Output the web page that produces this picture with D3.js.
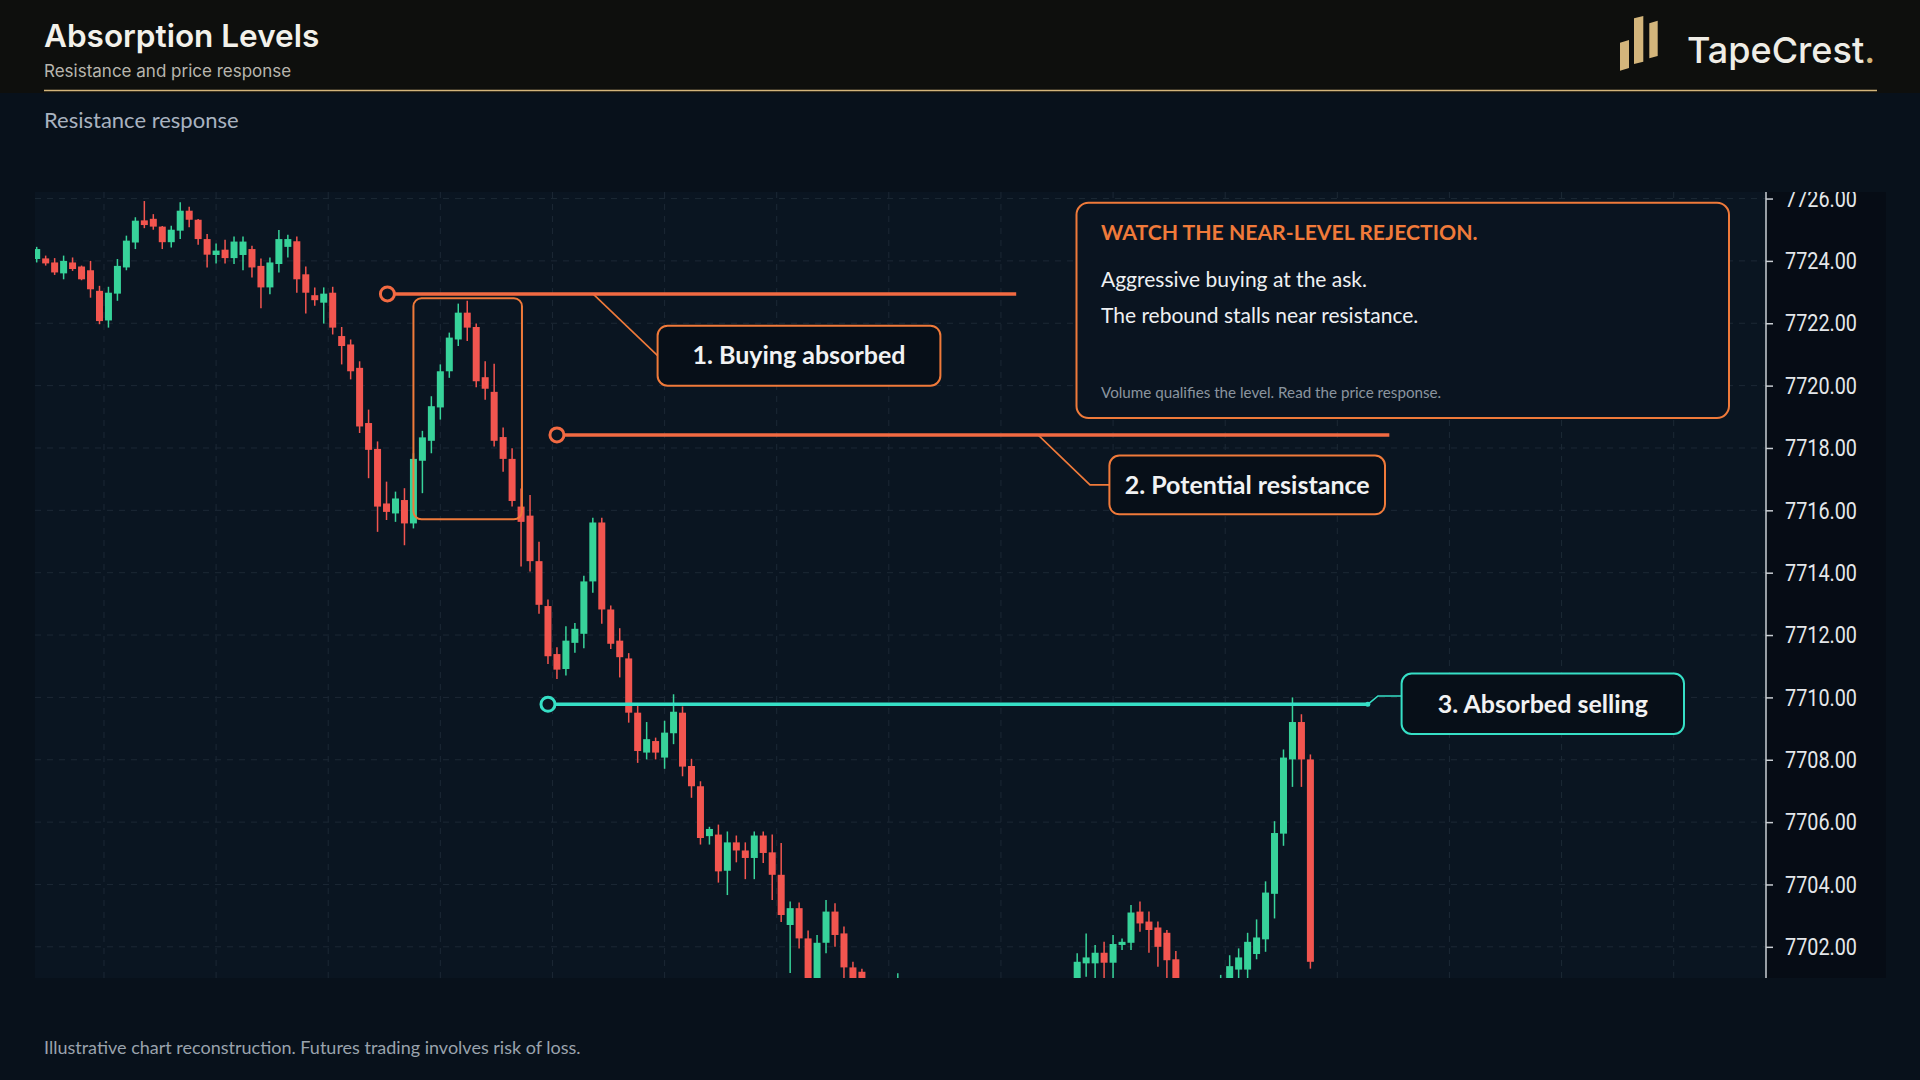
<!DOCTYPE html>
<html>
<head>
<meta charset="utf-8">
<script src="https://cdn.jsdelivr.net/npm/d3@7"></script>
<style>
  html, body { margin: 0; padding: 0; background: #08111b; }
  svg { display: block; }
</style>
</head>
<body>
<svg id="chart" width="1920" height="1080"></svg>
<script>
// ---------------- DATA ----------------
const chartTitle = "Absorption Levels";
const chartSubtitle = "Resistance and price response";
const panelLabel = "Resistance response";
const footerNote = "Illustrative chart reconstruction. Futures trading involves risk of loss.";
const brandName = "TapeCrest";

const candleOpen = [
  7724.06,7724.08,7723.95,7723.60,7723.95,7723.82,7723.70,7723.04,7722.09,7722.95,
  7723.79,7724.59,7725.30,7725.35,7725.10,7724.60,7724.97,7725.61,7725.32,7724.70,
  7724.19,7724.36,7724.09,7724.19,7724.38,7723.84,7723.15,7723.90,7724.45,7724.63,
  7723.57,7722.90,7722.66,7722.98,7721.59,7721.32,7720.57,7718.80,7717.97,7716.22,
  7715.90,7716.33,7715.58,7717.59,7718.23,7719.30,7720.46,7721.48,7722.34,7721.88,
  7720.27,7719.80,7718.35,7717.65,7716.12,7715.83,7714.37,7712.93,7711.39,7710.91,
  7711.75,7712.04,7713.72,7715.61,7712.82,7711.82,7711.25,7709.51,7708.23,7708.60,
  7708.07,7708.85,7709.51,7707.80,7707.15,7705.55,7705.60,7704.44,7705.35,7705.09,
  7704.85,7705.57,7705.03,7704.31,7702.70,7703.24,7702.27,7700.80,7702.13,7703.13,
  7702.43,7701.34,7701.20,7700.60,7699.90,7700.20,7699.30,7700.60,7699.10,7698.20,
  7697.50,7698.10,7697.00,7696.50,7697.30,7696.30,7696.80,7697.60,7697.20,7698.30,
  7697.90,7698.90,7698.50,7699.40,7699.20,7700.10,7700.50,7701.47,7701.47,7701.81,
  7701.49,7702.06,7702.13,7703.13,7702.81,7702.62,7702.45,7701.60,7700.80,7700.10,
  7699.80,7700.20,7699.90,7700.50,7701.27,7701.27,7701.77,7702.24,7703.70,7705.63,
  7708.01,7709.21,7708.01
];
const candleHigh = [
  7724.45,7724.17,7724.09,7724.17,7724.11,7723.85,7724.00,7723.20,7723.17,7724.06,
  7724.81,7725.40,7725.92,7725.50,7725.12,7725.13,7725.88,7725.74,7725.34,7724.86,
  7724.56,7724.68,7724.78,7724.78,7724.49,7724.08,7724.11,7724.99,7724.84,7724.78,
  7723.82,7723.15,7723.15,7723.17,7721.88,7721.48,7720.78,7719.23,7718.21,7716.92,
  7716.60,7716.71,7717.83,7718.55,7719.66,7720.68,7721.70,7722.63,7722.72,7721.99,
  7720.78,7720.70,7718.66,7717.99,7716.70,7716.49,7714.99,7713.14,7711.61,7712.28,
  7712.39,7713.90,7715.76,7715.76,7712.95,7712.22,7711.42,7709.73,7709.21,7708.71,
  7709.25,7710.10,7709.71,7708.03,7707.31,7705.85,7705.92,7705.70,7705.57,7705.35,
  7705.70,7705.70,7705.60,7705.33,7703.45,7703.42,7702.52,7702.38,7703.50,7703.40,
  7702.65,7701.52,7701.30,7700.80,7700.40,7700.50,7701.15,7700.80,7699.40,7698.60,
  7698.40,7698.30,7697.40,7697.60,7697.50,7697.00,7697.90,7698.00,7698.50,7698.70,
  7699.10,7699.30,7699.60,7699.90,7700.30,7700.70,7701.79,7702.43,7702.06,7702.16,
  7702.38,7702.27,7703.34,7703.45,7703.13,7702.81,7702.54,7701.87,7700.90,7700.60,
  7700.40,7700.70,7701.10,7701.73,7701.95,7702.45,7702.88,7704.10,7706.03,7708.33,
  7710.00,7709.46,7708.17
];
const candleLow = [
  7723.95,7723.85,7723.55,7723.41,7723.68,7723.38,7722.82,7721.97,7721.86,7722.72,
  7723.70,7724.38,7725.05,7725.00,7724.38,7724.43,7724.70,7725.08,7724.52,7723.79,
  7723.92,7723.92,7723.90,7723.70,7723.47,7722.48,7722.93,7723.63,7724.11,7722.98,
  7722.31,7722.56,7721.99,7721.64,7720.68,7720.20,7718.48,7717.03,7715.31,7715.69,
  7715.63,7714.88,7715.42,7716.55,7717.83,7718.91,7720.25,7721.27,7721.43,7719.95,
  7719.55,7718.05,7717.24,7716.12,7714.20,7714.04,7712.68,7711.07,7710.59,7710.70,
  7711.43,7711.58,7713.36,7712.36,7711.55,7710.64,7709.19,7707.90,7708.01,7708.01,
  7707.71,7708.50,7707.47,7706.78,7705.28,7705.28,7704.06,7703.66,7704.71,7704.17,
  7704.17,7704.69,7703.50,7702.80,7701.16,7701.95,7700.60,7700.50,7701.79,7702.00,
  7700.98,7700.50,7700.30,7699.60,7699.20,7699.00,7699.00,7698.80,7697.90,7697.20,
  7697.10,7696.80,7696.20,7696.30,7696.00,7695.80,7696.60,7696.90,7697.00,7697.60,
  7697.70,7698.20,7698.30,7698.90,7699.00,7699.70,7700.20,7701.04,7700.90,7700.90,
  7700.90,7701.90,7701.90,7702.48,7701.81,7701.36,7700.90,7700.50,7699.80,7699.50,
  7699.30,7699.60,7699.70,7700.30,7700.90,7700.90,7701.60,7701.84,7702.91,7705.24,
  7707.13,7707.13,7701.30
];
const candleClose = [
  7724.38,7723.92,7723.63,7724.00,7723.74,7723.41,7723.09,7722.07,7722.98,7723.84,
  7724.65,7725.29,7725.15,7725.10,7724.60,7725.00,7725.61,7725.32,7724.70,7724.20,
  7724.33,7724.09,7724.62,7724.62,7723.79,7723.15,7723.95,7724.70,7724.70,7723.41,
  7722.98,7722.74,7722.95,7721.86,7721.27,7720.46,7718.69,7717.94,7716.12,7715.95,
  7716.38,7715.58,7717.65,7718.34,7719.34,7720.46,7721.54,7722.34,7721.86,7720.14,
  7719.90,7718.23,7717.65,7716.30,7715.63,7714.37,7712.97,7711.32,7710.89,7711.82,
  7712.20,7713.72,7715.61,7712.82,7711.72,7711.29,7709.51,7708.28,7708.66,7708.23,
  7708.87,7709.54,7707.78,7707.15,7705.49,7705.78,7704.42,7705.35,7705.09,7704.85,
  7705.57,7705.01,7704.31,7703.02,7703.24,7702.27,7700.90,7702.13,7703.13,7702.38,
  7701.34,7700.80,7700.60,7699.90,7700.20,7699.30,7700.60,7699.10,7698.20,7697.50,
  7698.10,7697.00,7696.50,7697.30,7696.30,7696.80,7697.60,7697.20,7698.30,7697.90,
  7698.90,7698.50,7699.40,7699.20,7700.10,7700.00,7701.52,7701.66,7701.81,7701.49,
  7702.09,7702.16,7703.10,7702.75,7702.54,7702.00,7701.57,7700.80,7700.10,7699.80,
  7700.20,7699.90,7700.50,7701.38,7701.66,7702.16,7702.30,7703.74,7705.65,7708.07,
  7709.21,7708.01,7701.52
];

const priceTicks = [7702, 7704, 7706, 7708, 7710, 7712, 7714, 7716, 7718, 7720, 7722, 7724, 7726];

// annotated levels (price, start / end in candle index units)
const levelPrices = [7722.94, 7718.42, 7709.78];
const levelStartIdx = [39.1, 58.0, 57.0];
const levelEndIdx = [109.2, 150.8, 148.4];
const levelLabels = ["1. Buying absorbed", "2. Potential resistance", "3. Absorbed selling"];
// highlighted candle zone (index range, price range)
const zoneIdx = [42.0, 54.1];
const zonePrice = [7715.71, 7722.80];

const infoTitle = "WATCH THE NEAR-LEVEL REJECTION.";
const infoLines = ["Aggressive buying at the ask.", "The rebound stalls near resistance."];
const infoNote = "Volume qualifies the level. Read the price response.";

// ---------------- STYLE ----------------
const C = {
  header: "#0e0f0d", gold: "#d3b57b", page: "#08111b", panel: "#0a1521", axisBg: "#060c15",
  grid: "#1c2835", green: "#37d39a", red: "#f2554f", orange: "#f26a42", orangeBox: "#f07a3a",
  teal: "#36dfc6", white: "#f1f2f3", axisText: "#e4e7ea"
};
const uiFont = "Lato, 'Open Sans', sans-serif";

const svg = d3.select("#chart");
const N = candleOpen.length;
const candles = d3.range(N).map(i => ({ i, o: candleOpen[i], h: candleHigh[i], l: candleLow[i], c: candleClose[i] }));

const plot = { left: 35, right: 1766, top: 192, bottom: 978, panelRight: 1886 };
const x = d3.scaleLinear().domain([0, N - 1]).range([36.7, 1310.4]);
const y = d3.scaleLinear().domain([7701, 7726.21]).range([plot.bottom, plot.top]);

// ---------------- HEADER ----------------
svg.append("rect").attr("x", 0).attr("y", 0).attr("width", 1920).attr("height", 93).attr("fill", C.header);
svg.append("line").attr("x1", 44).attr("x2", 1877).attr("y1", 90.5).attr("y2", 90.5)
  .attr("stroke", C.gold).attr("stroke-width", 1.5);
svg.append("text").attr("x", 44).attr("y", 47).text(chartTitle)
  .attr("font-family", "Inter, sans-serif").attr("font-weight", 600).attr("font-size", 31.5).attr("fill", "#f3f1ea");
svg.append("text").attr("x", 44).attr("y", 77).text(chartSubtitle)
  .attr("font-family", "Inter, sans-serif").attr("font-size", 17).attr("fill", "#b8b6ae");

// logo
const logo = svg.append("g").attr("fill", C.gold);
[[1620, 1629, 42.7, 40, 70.7, 68], [1634, 1643.3, 18.3, 16, 64, 61.7], [1649.3, 1657.7, 23.3, 20.7, 58.3, 56]]
  .forEach(([x0, x1, tl, tr, bl, br]) => {
    logo.append("polygon").attr("points", `${x0},${tl} ${x1},${tr} ${x1},${br} ${x0},${bl}`);
  });
const brand = svg.append("text").attr("x", 1687).attr("y", 63)
  .attr("font-family", "Inter, sans-serif").attr("font-weight", 500).attr("font-size", 36).attr("fill", "#efede6");
brand.append("tspan").text(brandName);
brand.append("tspan").attr("fill", C.gold).text(".");

svg.append("text").attr("x", 44).attr("y", 128).text(panelLabel)
  .attr("font-family", uiFont).attr("font-size", 22).attr("fill", "#a9b3c0");

// ---------------- PANEL ----------------
svg.append("rect").attr("x", plot.left).attr("y", plot.top)
  .attr("width", plot.panelRight - plot.left).attr("height", plot.bottom - plot.top).attr("fill", C.panel);
svg.append("rect").attr("x", plot.right).attr("y", plot.top)
  .attr("width", plot.panelRight - plot.right).attr("height", plot.bottom - plot.top).attr("fill", C.axisBg);

const defs = svg.append("defs");
defs.append("clipPath").attr("id", "plotClip").append("rect")
  .attr("x", plot.left).attr("y", plot.top).attr("width", plot.right - plot.left).attr("height", plot.bottom - plot.top);
defs.append("clipPath").attr("id", "axisClip").append("rect")
  .attr("x", plot.right - 5).attr("y", plot.top).attr("width", 200).attr("height", plot.bottom - plot.top);

const gPlot = svg.append("g").attr("clip-path", "url(#plotClip)");

// grid
gPlot.append("g").selectAll("line").data(priceTicks).join("line")
  .attr("x1", plot.left).attr("x2", plot.right)
  .attr("y1", d => y(d)).attr("y2", d => y(d))
  .attr("stroke", C.grid).attr("stroke-width", 1).attr("stroke-dasharray", "6,6");
const vGrid = d3.range(7.5, 200, 12.5).filter(k => x(k) < plot.right);
gPlot.append("g").selectAll("line").data(vGrid).join("line")
  .attr("x1", d => x(d)).attr("x2", d => x(d))
  .attr("y1", plot.top).attr("y2", plot.bottom)
  .attr("stroke", C.grid).attr("stroke-width", 1).attr("stroke-dasharray", "6,6");

// candles
const bodyW = 7;
const gC = gPlot.append("g");
const cg = gC.selectAll("g").data(candles).join("g");
cg.append("line")
  .attr("x1", d => x(d.i)).attr("x2", d => x(d.i))
  .attr("y1", d => y(d.h)).attr("y2", d => y(d.l))
  .attr("stroke", d => d.c >= d.o ? C.green : C.red).attr("stroke-width", 1.5);
cg.append("rect")
  .attr("x", d => x(d.i) - bodyW / 2).attr("width", bodyW)
  .attr("y", d => y(Math.max(d.o, d.c)))
  .attr("height", d => Math.max(1.5, Math.abs(y(d.o) - y(d.c))))
  .attr("fill", d => d.c >= d.o ? C.green : C.red);

// axis
const gAxis = svg.append("g").attr("clip-path", "url(#axisClip)");
gAxis.append("line").attr("x1", plot.right).attr("x2", plot.right).attr("y1", plot.top).attr("y2", plot.bottom)
  .attr("stroke", "#c9ced3").attr("stroke-width", 1.5);
const yAxis = d3.axisRight(y).tickValues(priceTicks).tickFormat(d3.format(".2f")).tickSize(7).tickPadding(12);
const ax = gAxis.append("g").attr("transform", `translate(${plot.right},0)`).call(yAxis);
ax.select(".domain").remove();
ax.selectAll(".tick line").attr("stroke", "#c9ced3").attr("stroke-width", 1.5);
ax.selectAll(".tick text").attr("fill", C.axisText)
  .attr("font-family", "Roboto, sans-serif").attr("font-size", 24)
  .attr("textLength", 72).attr("lengthAdjust", "spacingAndGlyphs");

// ---------------- ANNOTATIONS ----------------
const gA = svg.append("g");
// candle zone box
gA.append("rect").attr("x", x(zoneIdx[0])).attr("y", y(zonePrice[1]))
  .attr("width", x(zoneIdx[1]) - x(zoneIdx[0])).attr("height", y(zonePrice[0]) - y(zonePrice[1]))
  .attr("rx", 8).attr("fill", "none").attr("stroke", C.orangeBox).attr("stroke-width", 2);

const levelColors = [C.orange, C.orange, C.teal];
const boxColors = [C.orangeBox, C.orangeBox, C.teal];
const boxes = [
  { x: 657.6, y: 325.7, w: 282.8, h: 60 },
  { x: 1109.4, y: 455.5, w: 275.6, h: 58.8 },
  { x: 1401.6, y: 673.5, w: 282.4, h: 60.5 }
];

// leaders
const ly = levelPrices.map(p => y(p));
const leaders = [
  [[593, ly[0]], [boxes[0].x, boxes[0].y + boxes[0].h / 2]],
  [[1038, ly[1]], [1090, boxes[1].y + boxes[1].h / 2], [boxes[1].x, boxes[1].y + boxes[1].h / 2]],
  [[x(levelEndIdx[2]), ly[2]], [1378, 696], [boxes[2].x, 696]]
];
leaders.forEach((pts, k) => {
  gA.append("path").attr("d", d3.line()(pts)).attr("fill", "none")
    .attr("stroke", boxColors[k]).attr("stroke-width", 1.6);
});

levelPrices.forEach((p, k) => {
  gA.append("line").attr("x1", x(levelStartIdx[k])).attr("x2", x(levelEndIdx[k]))
    .attr("y1", y(p)).attr("y2", y(p)).attr("stroke", levelColors[k]).attr("stroke-width", 3.5);
  gA.append("circle").attr("cx", x(levelStartIdx[k])).attr("cy", y(p)).attr("r", 7)
    .attr("fill", C.panel).attr("stroke", levelColors[k]).attr("stroke-width", 3);
});
gA.append("circle").attr("cx", x(levelEndIdx[2])).attr("cy", ly[2]).attr("r", 2.5).attr("fill", C.teal);

boxes.forEach((b, k) => {
  gA.append("rect").attr("x", b.x).attr("y", b.y).attr("width", b.w).attr("height", b.h).attr("rx", 10)
    .attr("fill", "#070f18").attr("stroke", boxColors[k]).attr("stroke-width", 2);
  gA.append("text").attr("x", b.x + b.w / 2).attr("y", b.y + b.h / 2).attr("dy", "0.35em")
    .attr("text-anchor", "middle").text(levelLabels[k])
    .attr("font-family", uiFont).attr("font-weight", 700).attr("font-size", 25).attr("fill", C.white);
});

// info box
const ib = { x: 1076.5, y: 202.7, w: 652.5, h: 215.3 };
gA.append("rect").attr("x", ib.x).attr("y", ib.y).attr("width", ib.w).attr("height", ib.h).attr("rx", 12)
  .attr("fill", "#0a1420").attr("stroke", C.orangeBox).attr("stroke-width", 2);
gA.append("text").attr("x", 1101).attr("y", 239.5).text(infoTitle)
  .attr("font-family", uiFont).attr("font-weight", 700).attr("font-size", 21.2).attr("fill", C.orangeBox);
infoLines.forEach((t, k) => {
  gA.append("text").attr("x", 1101).attr("y", 287 + k * 35.6).text(t)
    .attr("font-family", uiFont).attr("font-size", 21).attr("fill", "#eef0f2");
});
gA.append("text").attr("x", 1101).attr("y", 398.3).text(infoNote)
  .attr("font-family", uiFont).attr("font-size", 15.2).attr("fill", "#8a949f");

// footer
svg.append("text").attr("x", 44).attr("y", 1054).text(footerNote)
  .attr("font-family", uiFont).attr("font-size", 18).attr("fill", "#9aa3ad");
</script>
</body>
</html>
